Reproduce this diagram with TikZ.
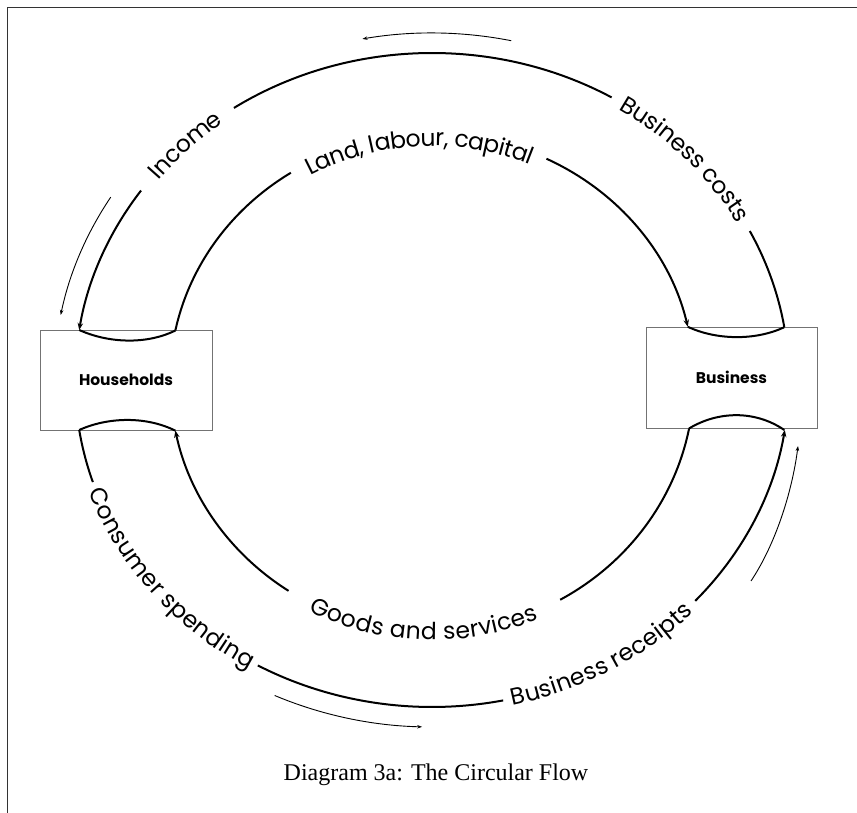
\documentclass[tikz,border=0pt]{standalone}
\usepackage{fontspec}
\setmainfont{Liberation Serif}
\newfontfamily\lblfam{Poppins}
\usetikzlibrary{decorations.text,arrows.meta,calc}
\newcommand\lblfont{\lblfam\fontsize{23.5}{28}\selectfont}
\begin{document}
\begin{tikzpicture}[x=1pt,y=1pt,
  ring/.style={line width=2pt},
  ringtip/.style={-{Stealth[length=7pt,width=5.5pt]}},
  thinarr/.style={line width=0.9pt,-{Stealth[length=5pt,width=3.5pt]}},
  box/.style={draw=black!55,line width=0.8pt,minimum width=172pt,minimum height=100pt,inner sep=0pt,
    font=\lblfam\bfseries\fontsize{15.5}{18}\selectfont},
  neck/.style={line width=2pt}]
\useasboundingbox (0,0) rectangle (857,813);
\draw[line width=0.8pt,black!80] (7,0) -- (7,806) -- (857,806);
\coordinate (C) at (432,433);
% boxes
\node[box] (hh) at (126,433) {Households};
\node[box,minimum width=171pt,minimum height=101pt] (bz) at (731.5,435.5) {Business};
% outer top ring
\draw[ring,ringtip] ($(C)+(144.6:357 and 327)$) arc[start angle=144.6,end angle=171.2,x radius=357,y radius=327];
\draw[ring] ($(C)+(59.8:357 and 327)$) arc[start angle=59.8,end angle=123.7,x radius=357,y radius=327];
\draw[ring] ($(C)+(9.3:357 and 327)$) arc[start angle=9.3,end angle=27.1,x radius=357,y radius=327];
\path[decorate,decoration={text along path,text={|\lblfont|Income},text align=center,raise=-7pt}]
  ($(C)+(146:357 and 327)$) arc[start angle=146,end angle=122,x radius=357,y radius=327];
\path[decorate,decoration={text along path,text={|\lblfont|Business costs},text align=center,raise=-7pt}]
  ($(C)+(61:357 and 327)$) arc[start angle=61,end angle=26,x radius=357,y radius=327];
% outer bottom ring
\draw[ring] ($(C)+(188.8:357 and 327)$) arc[start angle=188.8,end angle=198.2,x radius=357,y radius=327];
\draw[ring] ($(C)+(240.8:357 and 327)$) arc[start angle=240.8,end angle=281.5,x radius=357,y radius=327];
\draw[ring,ringtip] ($(C)+(317.5:357 and 327)$) arc[start angle=317.5,end angle=351.2,x radius=357,y radius=327];
\path[decorate,decoration={text along path,text={|\lblfont|Consumer spending},text align=center,raise=-7pt}]
  ($(C)+(197:357 and 327)$) arc[start angle=197,end angle=242,x radius=357,y radius=327];
\path[decorate,decoration={text along path,text={|\lblfont|Business receipts},text align=center,raise=-7pt}]
  ($(C)+(280:357 and 327)$) arc[start angle=280,end angle=319,x radius=357,y radius=327];
% inner top ring
\draw[ring] ($(C)+(168.4:262 and 246)$) arc[start angle=168.4,end angle=122.6,x radius=262,y radius=246];
\draw[ring,ringtip] ($(C)+(64.1:262 and 246)$) arc[start angle=64.1,end angle=12.5,x radius=262,y radius=246];
\path[decorate,decoration={text along path,text={|\lblfont|Land, labour, capital},text align=center,raise=-12pt}]
  ($(C)+(123:262 and 246)$) arc[start angle=123,end angle=63,x radius=262,y radius=246];
% inner bottom ring
\draw[ring] ($(C)+(348.9:262 and 252)$) arc[start angle=348.9,end angle=299.3,x radius=262,y radius=252];
\draw[ring,ringtip] ($(C)+(236.8:262 and 252)$) arc[start angle=236.8,end angle=191.6,x radius=262,y radius=252];
\path[decorate,decoration={text along path,text={|\lblfont|Goods and services},text align=center,raise=-8pt}]
  ($(C)+(236:262 and 252)$) arc[start angle=236,end angle=300,x radius=262,y radius=252];
% necks at the boxes
\draw[neck] (79.2,483) .. controls (108,470) and (146,468) .. (175.4,482.5);
\draw[neck] (687.8,486.2) .. controls (716,473) and (755,472) .. (784.3,485.8);
\draw[neck] (79.2,383) .. controls (108,396) and (146,397) .. (175.4,382.3);
\draw[neck] (689,384.5) .. controls (718,402) and (755,403) .. (784.3,383);
% small direction arrows
\draw[thinarr] ($(C)+(77.9:378 and 347)$) arc[start angle=77.9,end angle=100.6,x radius=378,y radius=347];
\draw[thinarr] ($(C)+(148.2:378 and 347)$) arc[start angle=148.2,end angle=169.2,x radius=378,y radius=347];
\draw[thinarr] ($(C)+(245.4:378 and 347)$) arc[start angle=245.4,end angle=268.5,x radius=378,y radius=347];
\draw[thinarr] (751,232) .. controls (775,268) and (792,320) .. (798,367);
% caption
\node[font=\fontsize{24}{28}\selectfont] (cap) at (436,38) {Diagram 3a: The Circular Flow};
\end{tikzpicture}
\end{document}
